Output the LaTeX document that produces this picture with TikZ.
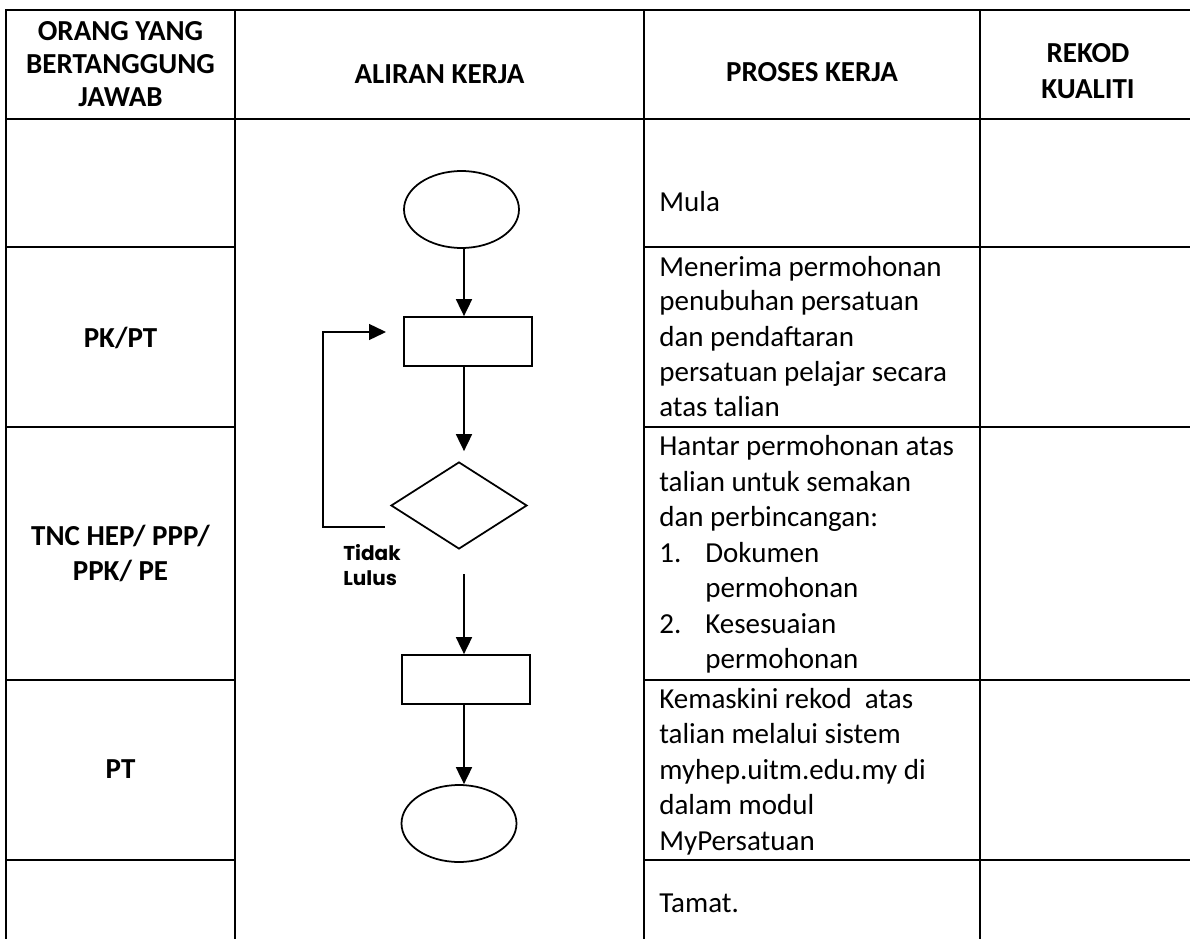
\documentclass[tikz,border=0pt]{standalone}
\usepackage{fontspec}
\setmainfont{Carlito}
\newfontfamily\labelfont{Poppins}
\usetikzlibrary{shapes.geometric,arrows.meta,positioning}

\begin{document}
\begin{tikzpicture}[
  x=0.02cm, y=-0.02cm,
  tbl/.style={line width=1.4pt},
  shp/.style={draw, line width=1pt, inner sep=0pt},
  term/.style={shp, ellipse, minimum width=2.3cm, minimum height=1.54cm},
  proc/.style={shp, rectangle, minimum width=2.56cm, minimum height=0.98cm},
  dec/.style={shp, diamond, minimum width=2.72cm, minimum height=1.74cm},
  arr/.style={-{Triangle[length=0.34cm, width=0.32cm]}, line width=1pt},
  head/.style={font=\fontsize{16.5}{19.9}\selectfont\bfseries, anchor=base, inner sep=0pt},
  txt/.style={font=\fontsize{16.5}{19.9}\selectfont, anchor=base west, inner sep=0pt},
  lbl/.style={font=\labelfont\fontsize{11.4}{13}\selectfont\bfseries, anchor=base west, inner sep=0pt}
]
  \useasboundingbox (0,0) rectangle (1190,939);

  \draw[tbl] (6,939) -- (6,10) -- (1190,10);
  \draw[tbl] (6,119) -- (1190,119);
  \foreach \x in {235,644,980}
    \draw[tbl] (\x,10) -- (\x,939);
  \foreach \y in {247,427,680,860} {
    \draw[tbl] (6,\y) -- (235,\y);
    \draw[tbl] (644,\y) -- (1190,\y);
  }

  \node[head] (h1a) at (120.5,41) {ORANG YANG};
  \node[head] (h1b) at (120.5,74) {BERTANGGUNG};
  \node[head] (h1c) at (120.5,107) {JAWAB};
  \node[head] (h2) at (439.5,84) {ALIRAN KERJA};
  \node[head] (h3) at (812,82) {PROSES KERJA};
  \node[head] (h4a) at (1088,63) {REKOD};
  \node[head] (h4b) at (1088,99) {KUALITI};

  \node[head] (pkpt) at (120.5,347) {PK/PT};
  \node[head] (tnc1) at (120.5,545) {TNC HEP/ PPP/};
  \node[head] (tnc2) at (120.5,580) {PPK/ PE};
  \node[head] (pt) at (120.5,778) {PT};

  \node[txt] (tmula) at (659,212) {Mula};
  \foreach \t/\y [count=\i] in {Menerima permohonan/276, penubuhan persatuan/311,
      dan pendaftaran/346, persatuan pelajar secara/381, atas talian/416}
    \node[txt] (tterima\i) at (659,\y) {\t};
  \foreach \t/\y [count=\i] in {Hantar permohonan atas/455, talian untuk semakan/491,
      dan perbincangan:/526}
    \node[txt] (thantar\i) at (659,\y) {\t};
  \node[txt] (n1) at (659,562) {1.};
  \node[txt] (item1a) at (705,562) {Dokumen};
  \node[txt] (item1b) at (705,597) {permohonan};
  \node[txt] (n2) at (659,633) {2.};
  \node[txt] (item2a) at (705,633) {Kesesuaian};
  \node[txt] (item2b) at (705,668) {permohonan};
  \foreach \t/\y [count=\i] in {Kemaskini rekod~ atas/708, talian melalui sistem/743,
      myhep.uitm.edu.my di/779, dalam modul/814, MyPersatuan/850}
    \node[txt] (tkemas\i) at (659,\y) {\t};
  \node[txt] (ttamat) at (659,912) {Tamat.};

  \coordinate (axis) at (464,0);
  \node[term] (mula) at (461.5,209.5) {};
  \node[proc] (terima) at (468,341.5) {};
  \node[dec] (semak) at (459,505.5) {};
  \node[proc] (kemas) at (466,679.5) {};
  \node[term] (tamat) at (459,823.5) {};
  \coordinate (lulus) at (464,574);
  \coordinate (gagal) at (385,527);
  \coordinate (ulang) at (386,332);

  \draw[arr] (axis |- mula.south) -- (axis |- terima.north);
  \draw[arr, shorten >=0.2cm] (axis |- terima.south) -- (axis |- semak.north);
  \draw[arr] (lulus) -- (axis |- kemas.north);
  \draw[arr] (axis |- kemas.south) -- (axis |- tamat.north);
  \draw[arr, line width=0.8pt] (gagal) -- ++(-62,0) |- (ulang);

  \node[lbl] (tidak) at (343,560) {Tidak};
  \node[lbl] (lulusT) at (343,585) {Lulus};
\end{tikzpicture}
\end{document}
